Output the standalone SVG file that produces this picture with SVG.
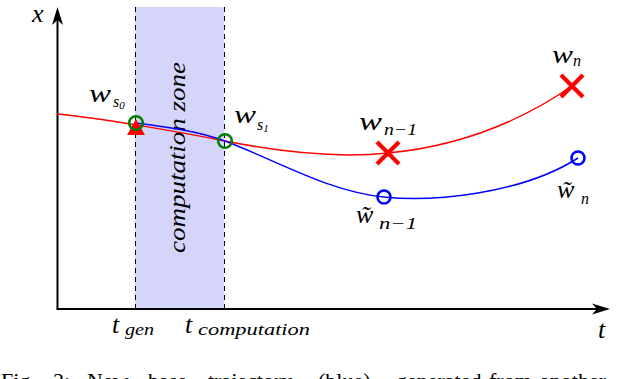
<svg xmlns="http://www.w3.org/2000/svg" width="640" height="379" viewBox="0 0 640 379" font-family="Liberation Serif, serif">
<style>
text{font-family:'Liberation Serif',serif}
.m{font-style:italic;fill:#000}
.w{font-size:26px}
.sub{font-size:16px}
.cap{font-size:22px;fill:#000}
.red{fill:none;stroke:#ff0000;stroke-width:1.5}
.blue{fill:none;stroke:#0000ff;stroke-width:1.5}
.gc{fill:none;stroke:#008000;stroke-width:2.6}
.bc{fill:none;stroke:#0000ff;stroke-width:2.6}
.rx{stroke:#ff0000;stroke-width:4.2;stroke-linecap:butt}
.dash{stroke:#000;stroke-width:1;stroke-dasharray:5 4}
.axis{stroke:#000;stroke-width:2;fill:none}
</style>
<rect width="640" height="379" fill="#fff"/>

<g id="zone">
<path d="M135,309 V9 Q135,7 137,7 H222 Q224,7 224,9 V309 Z" fill="#d5d5fa"/>
<line class="dash" x1="135.5" y1="7" x2="135.5" y2="309"/>
<line class="dash" x1="224.5" y1="7" x2="224.5" y2="309"/>
<text class="m" font-size="24" transform="translate(185,253) rotate(-90)" textLength="191" lengthAdjust="spacingAndGlyphs">computation zone</text>
</g>

<g id="axes">
<line class="axis" x1="57.5" y1="309" x2="57.5" y2="18"/>
<path d="M57.5,7 L63,25 L57.5,20 L52,25 Z" fill="#000"/>
<line class="axis" x1="56.5" y1="309" x2="600" y2="309"/>
<path d="M610,309 L592,303.5 L597,309 L592,314.5 Z" fill="#000"/>
<text class="m w" x="32" y="22">x</text>
<text class="m w" x="598" y="338">t</text>
<g id="tgen"><text class="m w" x="112" y="333">t</text><text class="m" font-size="17" x="125" y="335" textLength="29" lengthAdjust="spacingAndGlyphs">gen</text></g>
<g id="tcomp"><text class="m w" x="185" y="333">t</text><text class="m" font-size="17" x="198" y="335" textLength="112" lengthAdjust="spacingAndGlyphs">computation</text></g>
</g>

<g id="connectors">
<path id="red-traj" class="red" d="M57,114 C100,118 180,132 225,141 C280,152 340,158 388,153 C460,146 520,122 572,86"/>
<path id="blue-traj" class="blue" d="M136,123 C175,128 200,132 225,141 C280,162 330,192 384,197 C430,202 520,195 578,158"/>
</g>

<g id="ws0">
<path d="M127,135 L145,135 L136,119 Z" fill="#ff0000"/>
<circle class="gc" cx="136" cy="123" r="6.8"/>
<text class="m w" x="89" y="102" textLength="22" lengthAdjust="spacingAndGlyphs">w</text>
<text class="m sub" x="113" y="107">s<tspan font-size="11" dy="2">0</tspan></text>
</g>

<g id="ws1">
<circle class="gc" cx="225" cy="141" r="6.8"/>
<text class="m w" x="234" y="123" textLength="22" lengthAdjust="spacingAndGlyphs">w</text>
<text class="m sub" x="257" y="130">s<tspan font-size="11" dy="2">1</tspan></text>
</g>

<g id="wn1">
<path class="rx" d="M377,142 L399,164 M399,142 L377,164"/>
<text class="m w" x="359" y="130" textLength="23" lengthAdjust="spacingAndGlyphs">w</text>
<text class="m sub" x="384" y="135" textLength="33" lengthAdjust="spacingAndGlyphs">n−1</text>
</g>

<g id="wn">
<path class="rx" d="M561,75 L583,97 M583,75 L561,97"/>
<text class="m w" x="552" y="63" textLength="21" lengthAdjust="spacingAndGlyphs">w</text>
<text class="m sub" x="573" y="66">n</text>
</g>

<g id="wtn1">
<circle class="bc" cx="384" cy="197" r="6.5"/>
<text class="m w" x="356" y="223">w&#x303;</text>
<text class="m sub" x="379" y="229" textLength="38" lengthAdjust="spacingAndGlyphs">n−1</text>
</g>

<g id="wtn">
<circle class="bc" cx="578" cy="158" r="6.5"/>
<text class="m w" x="557" y="198">w&#x303;</text>
<text class="m sub" x="581" y="204">n</text>
</g>

<g id="caption">
<text class="cap" y="388"><tspan x="1">Fig.</tspan><tspan x="53">2:</tspan><tspan x="87">New</tspan><tspan x="148">base</tspan><tspan x="208">trajectory</tspan><tspan x="318">(blue)</tspan><tspan x="396">generated</tspan><tspan x="489">from</tspan><tspan x="540">another</tspan></text>
</g>
</svg>
